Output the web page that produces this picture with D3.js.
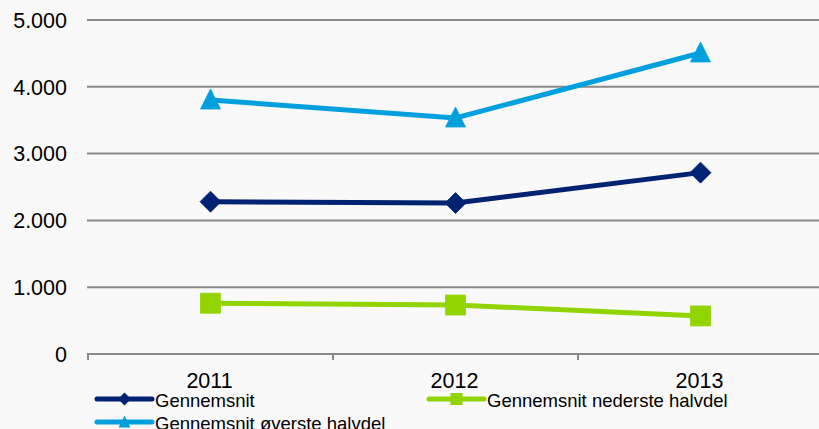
<!DOCTYPE html>
<html>
<head>
<meta charset="utf-8">
<script src="https://cdn.jsdelivr.net/npm/d3@7"></script>
<style>
body { margin: 0; background: #f9f9f9; }
svg { display: block; font-family: "Liberation Sans", Arial, sans-serif; }
</style>
</head>
<body>
<script>
var years = ["2011", "2012", "2013"];
var gennemsnit = [2280, 2260, 2715];
var nederste = [760, 733, 570];
var oeverste = [3802, 3533, 4506];
var yTicks = [0, 1000, 2000, 3000, 4000, 5000];

var w = 819, h = 429;
var svg = d3.select("body").append("svg").attr("width", w).attr("height", h);
svg.append("rect").attr("width", w).attr("height", h).attr("fill", "#f9f9f9");

var x = d3.scaleBand().domain(years).range([88, 823]);
var y = d3.scaleLinear().domain([0, 5000]).range([354, 20]);
var fmt = function(d) { return d3.format(",")(d).replace(/,/g, "."); };

// gridlines
svg.append("g").selectAll("line").data(yTicks).enter().append("line")
.attr("x1", 87).attr("x2", w)
.attr("y1", function(d) { return y(d); }).attr("y2", function(d) { return y(d); })
.attr("stroke", "#898989").attr("stroke-width", 2);

// y labels
svg.append("g").selectAll("text").data(yTicks).enter().append("text")
.attr("x", 67).attr("y", function(d) { return y(d); })
.attr("dy", "0.36em").attr("text-anchor", "end")
.style("font-size", "21.5px").attr("fill", "#000")
.text(fmt);

// x tick marks
var tickX = [88, 333, 578, 823];
svg.append("g").selectAll("line").data(tickX).enter().append("line")
.attr("x1", function(d) { return d; }).attr("x2", function(d) { return d; })
.attr("y1", 354).attr("y2", 360)
.attr("stroke", "#898989").attr("stroke-width", 2);

// x labels
svg.append("g").selectAll("text").data(years).enter().append("text")
.attr("x", function(d) { return x(d) + x.bandwidth() / 2 - 1; })
.attr("y", 388).attr("text-anchor", "middle")
.style("font-size", "21.5px").attr("fill", "#000")
.text(function(d) { return d; });

// marker shapes, r = half width
function diamond(r) { return "M0," + (-r) + "L" + r + ",0L0," + r + "L" + (-r) + ",0Z"; }
function triangle(r) { return "M0," + (-r * 1.1) + "L" + r + "," + (r * 0.9) + "L" + (-r) + "," + (r * 0.9) + "Z"; }
function square(r) { return "M" + (-r) + "," + (-r) + "H" + r + "V" + r + "H" + (-r) + "Z"; }

var series = [
{ name: "Gennemsnit øverste halvdel", values: oeverste, color: "#00a0df", shape: triangle },
{ name: "Gennemsnit", values: gennemsnit, color: "#002272", shape: diamond },
{ name: "Gennemsnit nederste halvdel", values: nederste, color: "#92d400", shape: square }
];

var line = d3.line()
.x(function(d, i) { return x(years[i]) + x.bandwidth() / 2; })
.y(function(d) { return y(d); });

series.forEach(function(s) {
svg.append("path").datum(s.values)
.attr("d", line).attr("fill", "none")
.attr("stroke", s.color).attr("stroke-width", 5);
svg.append("g").selectAll("path").data(s.values).enter().append("path")
.attr("transform", function(d, i) {
return "translate(" + (x(years[i]) + x.bandwidth() / 2) + "," + y(d) + ")";
})
.attr("d", s.shape === diamond ? diamond(10.5) : s.shape(10))
.attr("fill", s.color)
.attr("stroke", s.color).attr("stroke-width", 0.8).attr("stroke-linejoin", "round");
});

// legend
var legend = [
{ s: series[1], x: 97, y: 399 },
{ s: series[2], x: 429, y: 399 },
{ s: series[0], x: 97, y: 422 }
];
legend.forEach(function(l) {
var g = svg.append("g").attr("transform", "translate(" + l.x + "," + l.y + ")");
g.append("line").attr("x1", 0).attr("x2", 55).attr("y1", 0).attr("y2", 0)
.attr("stroke", l.s.color).attr("stroke-width", 5).attr("stroke-linecap", "round");
g.append("path").attr("transform", "translate(27.5,0)")
.attr("d", l.s.shape === diamond ? diamond(6.5) : l.s.shape(6))
.attr("fill", l.s.color);
g.append("text").attr("x", 58).attr("y", 7.5)
.style("font-size", "18.5px").attr("fill", "#000")
.text(l.s.name);
});
</script>
</body>
</html>
